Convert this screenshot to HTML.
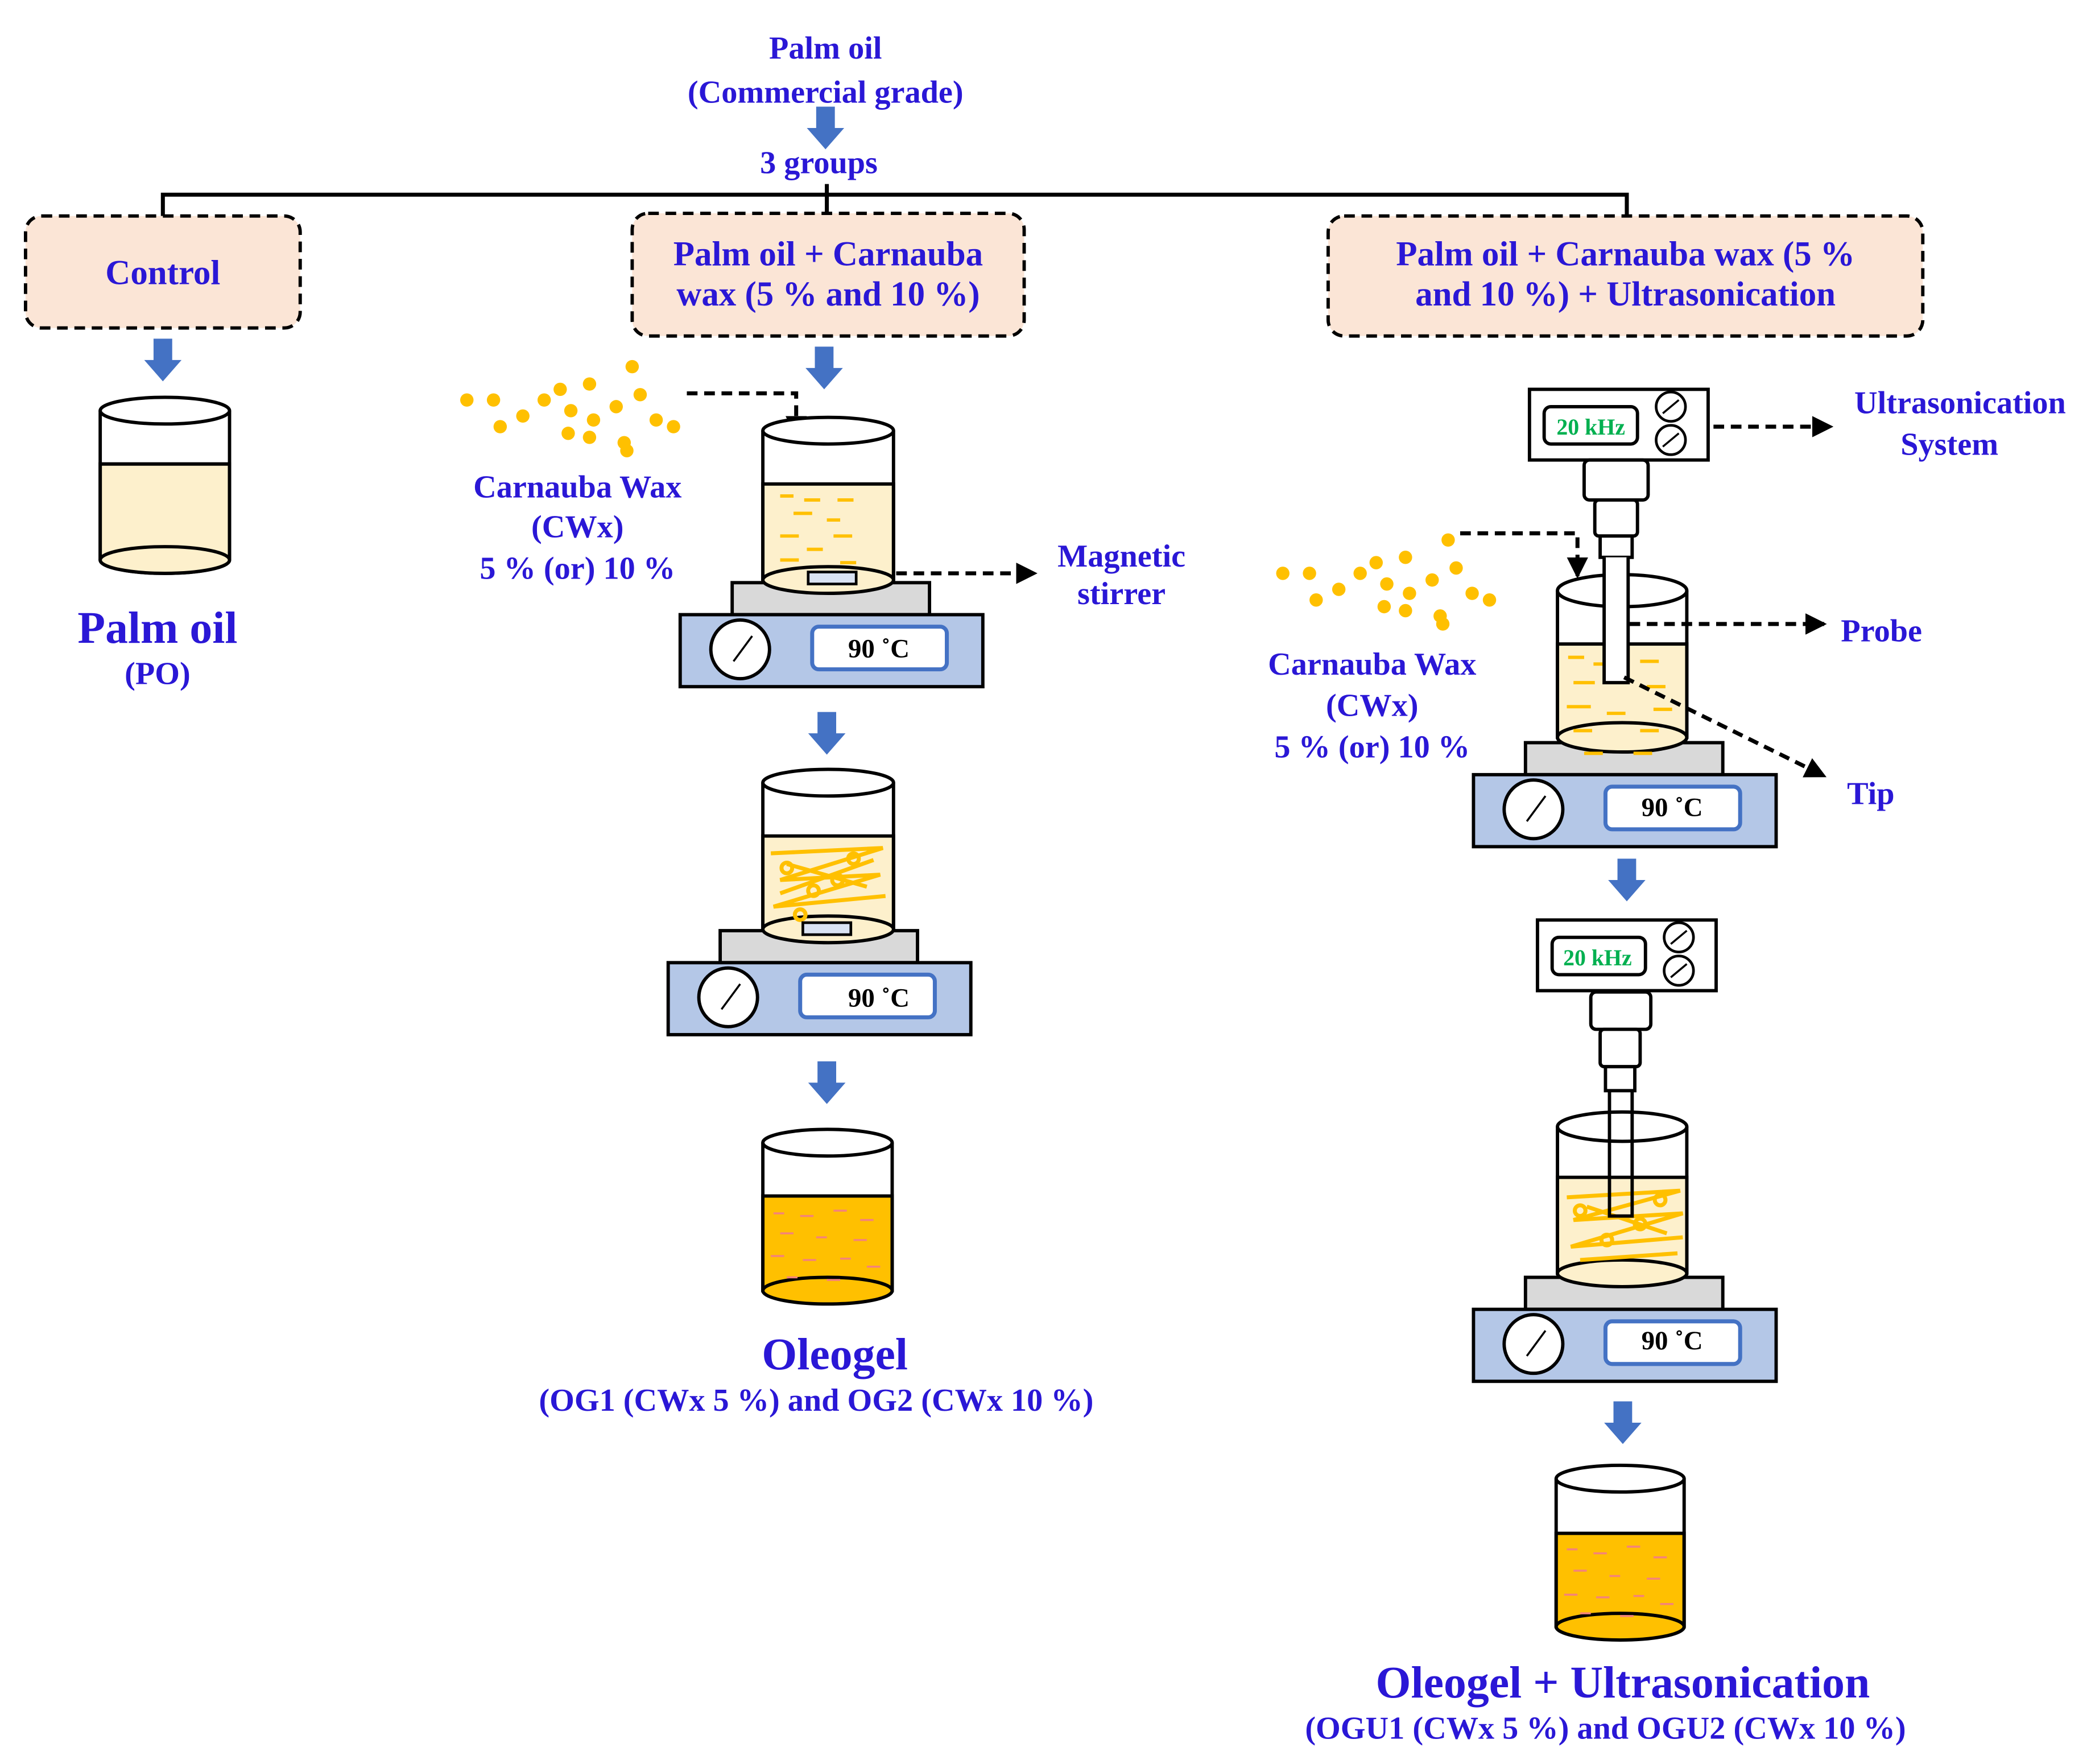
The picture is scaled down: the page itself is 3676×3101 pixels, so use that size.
<!DOCTYPE html>
<html><head><meta charset="utf-8"><style>
html,body{margin:0;padding:0;background:#fff;}
svg{display:block;}
text{font-family:"Liberation Serif",serif;font-weight:bold;fill:#2a17d6;text-anchor:middle;}
</style></head><body>
<svg width="3676" height="3101" viewBox="0 0 1568 1323" xmlns="http://www.w3.org/2000/svg">
<defs>
<g id="arr"><path d="M-7,0 H7 V16 H14 L0,32 L-14,16 H-7 Z" fill="#4472c4"/></g>
<g id="dots" fill="#ffc000">
<ellipse cx="0" cy="30" rx="5" ry="5"/><ellipse cx="20" cy="30" rx="5" ry="5"/><ellipse cx="42" cy="42" rx="5" ry="5"/>
<ellipse cx="25" cy="50" rx="5" ry="5"/><ellipse cx="58" cy="30" rx="5" ry="5"/><ellipse cx="70" cy="22" rx="5" ry="5"/>
<ellipse cx="78" cy="38" rx="5" ry="5"/><ellipse cx="92" cy="18" rx="5" ry="5"/><ellipse cx="95" cy="45" rx="5" ry="5"/>
<ellipse cx="76" cy="55" rx="5" ry="5"/><ellipse cx="92" cy="58" rx="5" ry="5"/><ellipse cx="112" cy="35" rx="5" ry="5"/>
<ellipse cx="124" cy="5" rx="5" ry="5"/><ellipse cx="130" cy="26" rx="5" ry="5"/><ellipse cx="118" cy="62" rx="5" ry="5"/>
<ellipse cx="142" cy="45" rx="5" ry="5"/><ellipse cx="155" cy="50" rx="5" ry="5"/><ellipse cx="120" cy="68" rx="5" ry="5"/>
</g>
<g id="heater">
<rect x="-71" y="0" width="148" height="24" fill="#d9d9d9" stroke="#000" stroke-width="2.5"/>
<rect x="-110" y="24" width="227" height="54" fill="#b4c7e7" stroke="#000" stroke-width="2.5"/>
<circle cx="-65" cy="50" r="22" fill="#fff" stroke="#000" stroke-width="2.5"/>
<line x1="-70" y1="59" x2="-56" y2="40" stroke="#000" stroke-width="1.5"/>
<rect x="-11" y="33" width="101" height="32" rx="5" fill="#fff" stroke="#4472c4" stroke-width="3"/>
</g>
<g id="gen">
<rect x="0" y="0" width="134" height="53" fill="#fff" stroke="#000" stroke-width="2.5"/>
<rect x="11" y="13" width="70" height="28" rx="5" fill="#fff" stroke="#000" stroke-width="2.5"/>
<circle cx="106" cy="13" r="11" fill="#fff" stroke="#000" stroke-width="2"/>
<circle cx="106" cy="38" r="11" fill="#fff" stroke="#000" stroke-width="2"/>
<line x1="100" y1="18" x2="112" y2="8" stroke="#000" stroke-width="1.5"/>
<line x1="100" y1="43" x2="112" y2="33" stroke="#000" stroke-width="1.5"/>
</g>
<marker id="ah" markerWidth="8" markerHeight="8" refX="6" refY="4" orient="auto" markerUnits="userSpaceOnUse" viewBox="0 0 8 8"><path d="M0,0 L8,4 L0,8 Z" fill="#000"/></marker>
<marker id="ah2" markerWidth="16" markerHeight="16" refX="14" refY="8" orient="auto" markerUnits="userSpaceOnUse"><path d="M0,0 L16,8 L0,16 Z" fill="#000"/></marker>
</defs>

<!-- top -->
<text x="619" y="44" font-size="24">Palm oil</text>
<text x="619" y="77" font-size="24">(Commercial grade)</text>
<use href="#arr" x="619" y="80"/>
<text x="614" y="130" font-size="24">3 groups</text>
<path d="M122,162 V146 H1220 V162 M620,138 V160" fill="none" stroke="#000" stroke-width="3"/>

<rect x="19" y="162" width="206" height="84" rx="12" fill="#fbe5d6" stroke="#000" stroke-width="2.5" stroke-dasharray="8,5"/>
<text x="122" y="213" font-size="26">Control</text>
<rect x="474" y="160" width="294" height="92" rx="12" fill="#fbe5d6" stroke="#000" stroke-width="2.5" stroke-dasharray="8,5"/>
<text x="621" y="199" font-size="26">Palm oil + Carnauba</text>
<text x="621" y="229" font-size="26">wax (5 % and 10 %)</text>
<rect x="996" y="162" width="446" height="90" rx="12" fill="#fbe5d6" stroke="#000" stroke-width="2.5" stroke-dasharray="8,5"/>
<text x="1219" y="199" font-size="26">Palm oil + Carnauba wax (5 %</text>
<text x="1219" y="229" font-size="26">and 10 %) + Ultrasonication</text>

<!-- column 1 -->
<use href="#arr" x="122" y="254"/>
<g stroke="#000" stroke-width="2.5">
<path d="M75,348 H172 V420 A48.5,10 0 0 1 75,420 Z" fill="#fdf0cc"/>
<path d="M75,308 V420 M172,308 V420 M75,348 H172" fill="none"/>
<ellipse cx="123.5" cy="308" rx="48.5" ry="10" fill="#fff"/>
<ellipse cx="123.5" cy="420" rx="48.5" ry="10" fill="#fdf0cc"/>
</g>
<text x="118" y="482" font-size="34">Palm oil</text>
<text x="118" y="513" font-size="24">(PO)</text>

<!-- column 2 -->
<use href="#arr" x="618" y="260"/>
<use href="#dots" x="350" y="270"/>
<path d="M515,295 H597 V326" fill="none" stroke="#000" stroke-width="3" stroke-dasharray="8,5" marker-end="url(#ah2)"/>
<text x="433" y="373" font-size="24">Carnauba Wax</text>
<text x="433" y="403" font-size="24">(CWx)</text>
<text x="433" y="434" font-size="24">5 % (or) 10 %</text>
<use href="#heater" x="620" y="437"/>
<text x="659" y="493" font-size="20" fill="#000" style="fill:#000">90 ˚C</text>
<g stroke="#000" stroke-width="2.5">
<rect x="572" y="363" width="98" height="72" fill="#fdf0cc"/>
<path d="M572,323 V435 M670,323 V435" fill="none"/>
<ellipse cx="621" cy="323" rx="49" ry="10" fill="#fff"/>
<ellipse cx="621" cy="435" rx="49" ry="10" fill="#fdf0cc"/>
<rect x="606" y="429" width="36" height="9" fill="#dae3f3" stroke-width="2"/>
</g>
<g stroke="#ffc000" stroke-width="2.5">
<path d="M585,372 h10 M603,375 h12 M628,375 h12 M595,385 h14 M620,390 h10 M585,402 h14 M625,402 h14 M605,412 h12 M585,420 h14 M630,422 h12"/>
</g>
<path d="M672,430 H776" stroke="#000" stroke-width="3" stroke-dasharray="8,5" marker-end="url(#ah2)"/>
<text x="841" y="425" font-size="24">Magnetic</text>
<text x="841" y="453" font-size="24">stirrer</text>

<use href="#arr" x="620" y="534"/>
<use href="#heater" x="620" y="698" transform="translate(-9,0)"/>
<text x="659" y="755" font-size="20" style="fill:#000">90 ˚C</text>
<g stroke="#000" stroke-width="2.5">
<rect x="572" y="627" width="98" height="70" fill="#fdf0cc"/>
<path d="M572,587 V697 M670,587 V697" fill="none"/>
<ellipse cx="621" cy="587" rx="49" ry="10" fill="#fff"/>
<ellipse cx="621" cy="697" rx="49" ry="10" fill="#fdf0cc"/>
</g>
<g stroke="#ffc000" stroke-width="3" fill="none">
<path d="M578,640 L662,636 L585,660 L660,656 L580,680 L664,672 M590,648 L650,665 M585,670 L655,645"/>
<circle cx="590" cy="651" r="4"/><circle cx="628" cy="660" r="4"/><circle cx="610" cy="668" r="4"/><circle cx="640" cy="644" r="4"/><circle cx="600" cy="686" r="4"/>
</g>
<rect x="602" y="692" width="36" height="9" fill="#dae3f3" stroke="#000" stroke-width="2"/>

<use href="#arr" x="620" y="796"/>
<g stroke="#000" stroke-width="2.5">
<rect x="572" y="897" width="97" height="71" fill="#ffc000"/>
<path d="M572,857 V968 M669,857 V968" fill="none"/>
<ellipse cx="620.5" cy="857" rx="48.5" ry="10" fill="#fff"/>
<ellipse cx="620.5" cy="968" rx="48.5" ry="10" fill="#ffc000"/>
</g>
<g stroke="#f4837a" stroke-width="1.5">
<path d="M580,910 h8 M600,912 h10 M625,908 h10 M645,915 h10 M585,925 h10 M612,928 h8 M640,930 h10 M578,942 h10 M602,945 h10 M630,944 h8 M650,950 h10 M590,958 h8 M620,960 h10"/>
</g>
<text x="626" y="1027" font-size="34">Oleogel</text>
<text x="612" y="1058" font-size="24">(OG1 (CWx 5 %) and OG2 (CWx 10 %)</text>

<!-- column 3 -->
<use href="#gen" x="1147" y="292"/>
<text x="1193" y="326" font-size="17" style="fill:#00b050">20 kHz</text>
<path d="M1285,320 H1373" stroke="#000" stroke-width="3" stroke-dasharray="8,5" marker-end="url(#ah2)"/>
<text x="1470" y="310" font-size="24">Ultrasonication</text>
<text x="1462" y="341" font-size="24">System</text>
<use href="#dots" x="962" y="400"/>
<path d="M1095,400 H1183 V432" fill="none" stroke="#000" stroke-width="3" stroke-dasharray="8,5" marker-end="url(#ah2)"/>
<text x="1029" y="506" font-size="24">Carnauba Wax</text>
<text x="1029" y="537" font-size="24">(CWx)</text>
<text x="1029" y="568" font-size="24">5 % (or) 10 %</text>
<use href="#heater" x="1215" y="557"/>
<text x="1254" y="612" font-size="20" style="fill:#000">90 ˚C</text>
<g stroke="#000" stroke-width="2.5">
<rect x="1168" y="483" width="97" height="70" fill="#fdf0cc"/>
<path d="M1168,443 V553 M1265,443 V553" fill="none"/>
<ellipse cx="1216.5" cy="443" rx="48.5" ry="12" fill="none"/>
<ellipse cx="1216.5" cy="553" rx="48.5" ry="11" fill="#fdf0cc"/>
</g>
<g stroke="#ffc000" stroke-width="2.5">
<path d="M1176,493 h12 M1195,498 h14 M1230,496 h14 M1180,512 h16 M1235,515 h14 M1175,530 h18 M1205,535 h14 M1240,532 h14 M1180,548 h14 M1230,548 h14 M1188,565 h14 M1225,565 h14"/>
</g>
<g stroke="#000" stroke-width="2.5" fill="#fff">
<rect x="1188" y="345" width="48" height="30" rx="4"/>
<rect x="1196" y="375" width="32" height="27" rx="3"/>
<rect x="1200" y="402" width="24" height="16"/>
<path d="M1203,418 V512 H1221 V418" />
</g>
<path d="M1222,468 H1368" stroke="#000" stroke-width="3" stroke-dasharray="8,5" marker-end="url(#ah2)"/>
<path d="M1218,508 L1368,582" stroke="#000" stroke-width="3" stroke-dasharray="8,5" marker-end="url(#ah2)"/>
<text x="1411" y="481" font-size="24">Probe</text>
<text x="1403" y="603" font-size="24">Tip</text>

<use href="#arr" x="1220" y="644"/>
<use href="#gen" x="1153" y="690"/>
<text x="1198" y="724" font-size="17" style="fill:#00b050">20 kHz</text>
<use href="#heater" x="1215" y="958"/>
<text x="1254" y="1012" font-size="20" style="fill:#000">90 ˚C</text>
<g stroke="#000" stroke-width="2.5">
<rect x="1168" y="883" width="97" height="72" fill="#fdf0cc"/>
<path d="M1168,845 V955 M1265,845 V955" fill="none"/>
<ellipse cx="1216.5" cy="845" rx="48.5" ry="11" fill="none"/>
<ellipse cx="1216.5" cy="955" rx="48.5" ry="10" fill="#fdf0cc"/>
</g>
<g stroke="#ffc000" stroke-width="3" fill="none">
<path d="M1175,898 L1260,893 L1180,915 L1262,910 L1178,935 L1262,928 M1185,945 L1258,940 M1190,905 L1250,925"/>
<circle cx="1185" cy="908" r="4"/><circle cx="1230" cy="918" r="4"/><circle cx="1205" cy="930" r="4"/><circle cx="1245" cy="900" r="4"/>
</g>
<g stroke="#000" stroke-width="2.5" fill="#fff">
<rect x="1193" y="744" width="45" height="28" rx="4"/>
<rect x="1200" y="772" width="30" height="28" rx="3"/>
<rect x="1204" y="800" width="22" height="18"/>
<path d="M1207,818 V912 H1224 V818" fill="none"/>
</g>

<use href="#arr" x="1217" y="1051"/>
<g stroke="#000" stroke-width="2.5">
<rect x="1167" y="1150" width="96" height="70" fill="#ffc000"/>
<path d="M1167,1109 V1220 M1263,1109 V1220" fill="none"/>
<ellipse cx="1215" cy="1109" rx="48" ry="10" fill="#fff"/>
<ellipse cx="1215" cy="1220" rx="48" ry="10" fill="#ffc000"/>
</g>
<g stroke="#f4837a" stroke-width="1.5">
<path d="M1175,1162 h8 M1195,1165 h10 M1220,1160 h10 M1240,1168 h10 M1180,1178 h10 M1207,1182 h8 M1235,1184 h10 M1173,1196 h10 M1197,1198 h10 M1225,1197 h8 M1245,1203 h10 M1185,1210 h8 M1215,1212 h10"/>
</g>
<text x="1217" y="1273" font-size="34">Oleogel + Ultrasonication</text>
<text x="1204" y="1304" font-size="24">(OGU1 (CWx 5 %) and OGU2 (CWx 10 %)</text>
</svg>
</body></html>
